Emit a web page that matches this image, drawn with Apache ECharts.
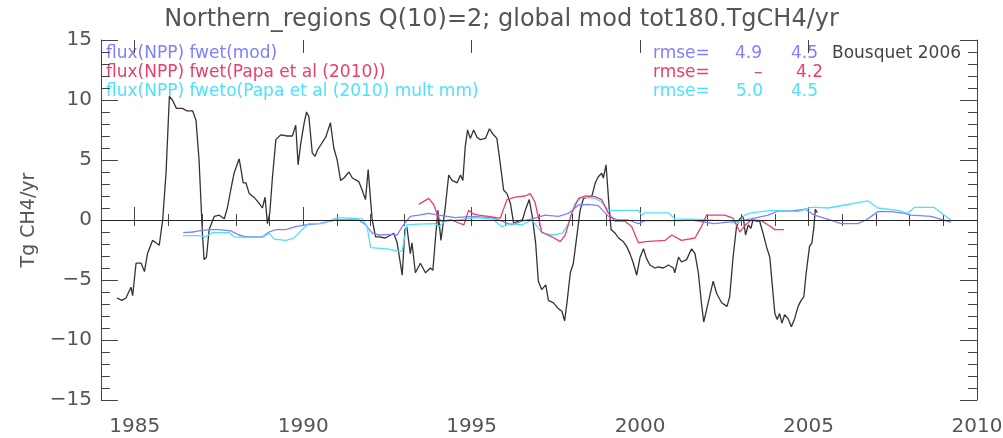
<!DOCTYPE html>
<html>
<head>
<meta charset="utf-8">
<title>Northern_regions</title>
<script src="https://cdn.jsdelivr.net/npm/echarts@6/dist/echarts.min.js"></script>
<style>
  html, body { margin: 0; padding: 0; background: #fff; }
  #chart { width: 1003px; height: 438px; }
</style>
</head>
<body>
<div id="chart"></div>
<script>
// tick labels
var yearLabels = [1985, 1990, 1995, 2000, 2005, 2010];
var yTicks = [-15, -10, -5, 0, 5, 10, 15];

// Bousquet 2006 (black)
var bousquet = [
    [1984.47, -6.5], [1984.62, -6.7], [1984.74, -6.5], [1984.89, -5.6], [1984.94, -6.3],
    [1985.04, -3.6], [1985.19, -3.6], [1985.29, -4.3], [1985.38, -2.8], [1985.53, -1.7],
    [1985.63, -1.9], [1985.73, -2.1], [1985.83, 0], [1985.93, 3.9], [1986.03, 10.3],
    [1986.12, 10.0], [1986.24, 9.3], [1986.42, 9.3], [1986.54, 9.1], [1986.72, 9.1],
    [1986.82, 8.3], [1986.91, 5.0], [1987.01, -1.1], [1987.06, -3.3], [1987.13, -3.1],
    [1987.21, -0.8], [1987.36, 0.3], [1987.51, 0.4], [1987.66, 0.1], [1987.75, 1.0],
    [1987.85, 2.5], [1987.95, 3.9], [1988.10, 5.1], [1988.15, 4.3], [1988.22, 3.1],
    [1988.30, 3.1], [1988.40, 2.2], [1988.54, 1.9], [1988.69, 1.4], [1988.79, 1.0],
    [1988.87, 1.9], [1988.94, -0.3], [1989.01, 0.6], [1989.09, 3.6], [1989.19, 6.7],
    [1989.34, 7.1], [1989.53, 7.0], [1989.68, 7.0], [1989.78, 7.9], [1989.85, 4.6],
    [1989.93, 6.4], [1990.03, 8.1], [1990.10, 9.0], [1990.17, 8.6], [1990.27, 5.6],
    [1990.35, 5.3], [1990.42, 5.8], [1990.52, 6.25], [1990.67, 6.9], [1990.81, 8.1],
    [1990.91, 6.0], [1991.01, 5.0], [1991.11, 3.3], [1991.21, 3.5], [1991.36, 4.0],
    [1991.46, 3.5], [1991.65, 3.2], [1991.75, 2.5], [1991.85, 1.7], [1991.93, 4.2],
    [1992.00, 1.7], [1992.05, 0], [1992.15, -1.4], [1992.25, -1.4], [1992.44, -1.5],
    [1992.69, -1.1], [1992.79, -1.9], [1992.94, -4.6], [1993.02, -0.8], [1993.08, -0.6],
    [1993.18, -2.8], [1993.23, -1.9], [1993.33, -4.4], [1993.48, -3.6], [1993.63, -4.4],
    [1993.78, -4.0], [1993.85, -4.2], [1993.93, -1.4], [1994.00, 0.8], [1994.09, -1.7],
    [1994.22, 1.1], [1994.32, 3.75], [1994.42, 3.3], [1994.57, 3.1], [1994.67, 3.75],
    [1994.74, 3.3], [1994.81, 6.1], [1994.88, 7.5], [1994.96, 6.8], [1995.06, 7.5],
    [1995.16, 6.9], [1995.26, 6.7], [1995.41, 6.8], [1995.53, 7.6], [1995.65, 7.1],
    [1995.75, 6.8], [1995.85, 4.7], [1995.95, 2.5], [1996.05, 2.2], [1996.15, 1.4],
    [1996.25, -0.3], [1996.37, -0.1], [1996.51, 0], [1996.59, 0.8], [1996.71, 1.7],
    [1996.80, 0.3], [1996.90, -1.9], [1996.98, -5.1], [1997.08, -5.8], [1997.20, -5.4],
    [1997.28, -6.7], [1997.43, -6.9], [1997.58, -7.4], [1997.68, -7.6], [1997.76, -8.4],
    [1997.83, -6.9], [1997.93, -4.4], [1998.02, -3.6], [1998.12, -1.4], [1998.22, 0.8],
    [1998.32, 1.8], [1998.47, 1.9], [1998.57, 2.0], [1998.67, 3.1], [1998.76, 3.6],
    [1998.86, 3.9], [1998.91, 3.5], [1998.99, 4.6], [1999.08, 1.1], [1999.14, -0.8],
    [1999.26, -1.1], [1999.36, -1.5], [1999.50, -1.8], [1999.60, -2.2], [1999.70, -2.8],
    [1999.80, -3.6], [1999.90, -4.6], [2000.00, -3.1], [2000.10, -2.4], [2000.19, -3.2],
    [2000.29, -3.75], [2000.44, -4.0], [2000.54, -3.9], [2000.69, -4.0], [2000.84, -3.75],
    [2000.99, -4.0], [2001.03, -4.4], [2001.14, -3.1], [2001.23, -3.5], [2001.38, -3.3],
    [2001.53, -2.4], [2001.63, -2.8], [2001.73, -4.4], [2001.82, -6.9], [2001.89, -8.5],
    [2002.02, -6.9], [2002.17, -5.1], [2002.27, -6.1], [2002.42, -6.9], [2002.58, -7.2],
    [2002.66, -6.4], [2002.76, -3.1], [2002.86, -0.6], [2002.96, 0.1], [2003.06, 0.3],
    [2003.13, -1.25], [2003.21, -0.4], [2003.29, -0.7], [2003.35, 0], [2003.45, -0.1],
    [2003.55, -0.1], [2003.65, -1.1], [2003.75, -2.2], [2003.85, -3.1], [2003.92, -5.3],
    [2004.00, -7.8], [2004.07, -8.3], [2004.14, -7.8], [2004.21, -8.6], [2004.29, -7.9],
    [2004.39, -8.2], [2004.49, -8.9], [2004.59, -8.2], [2004.69, -7.2], [2004.78, -6.7],
    [2004.86, -6.4], [2004.93, -4.4], [2005.03, -2.2], [2005.10, -1.9], [2005.16, -0.6],
    [2005.20, 0.9], [2005.26, 0.6]
];

// flux(NPP) fwet(mod)
var fwetMod = [
    [1986.44, -1.05], [1986.72, -1.0], [1986.91, -0.9], [1987.21, -0.8], [1987.51, -0.8],
    [1987.85, -0.9], [1988.10, -1.25], [1988.30, -1.4], [1988.79, -1.4], [1988.99, -1.0],
    [1989.19, -0.8], [1989.49, -0.8], [1989.78, -0.55], [1990.07, -0.4], [1990.47, -0.3],
    [1990.96, 0], [1991.65, 0], [1991.85, -0.4], [1992.05, -1.1], [1992.25, -1.25],
    [1992.64, -1.2], [1992.79, -1.25], [1992.94, -0.55], [1993.18, 0.3], [1993.43, 0.4],
    [1993.73, 0.55], [1994.02, 0.4], [1994.52, 0.2], [1995.01, 0.3], [1995.60, 0.2],
    [1995.90, -0.1], [1996.19, -0.4], [1996.49, -0.1], [1996.79, 0.1], [1997.18, 0.4],
    [1997.58, 0.3], [1997.87, 0.55], [1998.17, 1.25], [1998.47, 1.3], [1998.76, 1.2],
    [1999.06, 0.3], [1999.36, 0], [1999.65, 0], [1999.95, -0.3], [2000.15, -0.05],
    [2001.14, -0.05], [2001.53, 0], [2002.20, -0.3], [2002.90, -0.1], [2003.30, 0.1],
    [2003.80, 0.4], [2004.10, 0.75], [2004.50, 0.75], [2004.90, 0.9], [2005.18, 0.4],
    [2005.58, 0.05], [2005.97, -0.3], [2006.46, -0.3], [2006.71, 0], [2007.06, 0.7],
    [2007.45, 0.7], [2007.85, 0.55], [2008.04, 0.4], [2008.64, 0.3], [2008.94, 0.05],
    [2009.23, -0.2]
];

// flux(NPP) fwet(Papa et al (2010))
var fwetPapa = [
    [1993.43, 1.3], [1993.73, 1.8], [1993.88, 1.25], [1994.02, 0.15], [1994.10, -0.1],
    [1994.40, 0], [1994.77, -0.4], [1994.91, 0.8], [1995.06, 0.5], [1995.21, 0.4],
    [1995.50, 0.3], [1995.85, 0.15], [1996.05, 1.7], [1996.30, 1.9], [1996.59, 2.0],
    [1996.74, 2.2], [1996.88, 1.5], [1997.08, -1.0], [1997.38, -1.4], [1997.63, -1.8],
    [1997.78, -1.25], [1997.97, 0.55], [1998.17, 1.8], [1998.37, 2.0], [1998.67, 1.95],
    [1998.86, 1.7], [1999.06, 0.55], [1999.26, -0.1], [1999.55, -0.1], [1999.75, -0.55],
    [1999.95, -1.9], [2000.15, -1.8], [2000.74, -1.7], [2000.94, -1.25], [2001.23, -1.7],
    [2001.63, -1.5], [2001.82, -0.55], [2001.97, 0.4], [2002.51, 0.4], [2002.76, 0.15],
    [2002.96, -1.0], [2003.13, -0.4], [2003.30, 0], [2003.60, -0.05], [2003.85, -0.5],
    [2004.00, -0.8], [2004.27, -0.8]
];

// flux(NPP) fweto(Papa et al (2010) mult mm)
var fwetoPapa = [
    [1986.44, -1.3], [1986.91, -1.3], [1987.11, -1.4], [1987.31, -1.05], [1987.80, -1.05],
    [1987.95, -1.4], [1988.30, -1.45], [1988.79, -1.45], [1988.99, -1.1], [1989.14, -1.6],
    [1989.49, -1.7], [1989.73, -1.5], [1989.97, -0.8], [1990.17, -0.3], [1990.57, -0.3],
    [1991.01, 0.2], [1991.75, 0.1], [1991.90, -0.55], [1992.00, -2.3], [1992.50, -2.4],
    [1992.79, -2.6], [1992.94, -2.6], [1993.08, -0.4], [1993.43, -0.35], [1993.93, -0.3],
    [1994.02, -0.55], [1994.22, -0.1], [1994.62, 0], [1995.11, 0.2], [1995.60, 0.1],
    [1995.90, -0.55], [1996.19, -0.3], [1996.49, -0.4], [1996.79, 0], [1997.10, -1.1],
    [1997.40, -1.25], [1997.70, -1.1], [1997.87, -0.3], [1998.07, 1.4], [1998.27, 1.9],
    [1998.67, 1.8], [1998.86, 1.5], [1999.06, 0.8], [1999.95, 0.8], [2000.05, 0.4],
    [2000.15, 0.6], [2000.84, 0.6], [2001.03, 0.1], [2001.73, 0.05], [2002.50, -0.05],
    [2002.90, -0.3], [2003.10, 0.4], [2003.30, 0.6], [2003.90, 0.8], [2004.69, 0.7],
    [2004.90, 0.9], [2005.08, 1.05], [2005.30, 1.05], [2005.58, 1.0], [2006.07, 1.25],
    [2006.76, 1.6], [2007.06, 1.0], [2007.65, 0.8], [2007.94, 0.55], [2008.14, 1.05],
    [2008.73, 1.05], [2009.03, 0.4], [2009.23, 0]
];

var BLUE = '#7f7fff', RED = '#e8406e', CYAN = '#4fe0ff', BLACK = '#333333';
var FONT = '"DejaVu Sans", sans-serif';
var AXIS_COLOR = '#444';

// plot box in pixels
var GRID_LEFT = 101, GRID_RIGHT = 26, GRID_TOP = 40, GRID_BOTTOM = 38;
var X_MIN = 1984, X_MAX = 2010;
// second (wider) grid whose axis starts on 1980 so the 5-year ticks fall on 1985, 1990, ...
var PX_PER_YEAR = (1003 - GRID_LEFT - GRID_RIGHT) / (X_MAX - X_MIN);
var MAJOR_LEFT = GRID_LEFT - (X_MIN - 1980) * PX_PER_YEAR;

function minorXAxis(pos) {
    return {
        type: 'value', gridIndex: 0, position: pos, min: X_MIN, max: X_MAX, interval: 1,
        axisLine: { show: true, lineStyle: { color: AXIS_COLOR, width: 1 } },
        axisTick: { inside: true, length: 6, lineStyle: { color: AXIS_COLOR } },
        axisLabel: { show: false },
        splitLine: { show: false }
    };
}

function majorXAxis(pos) {
    return {
        type: 'value', gridIndex: 1, position: pos, min: 1980, max: X_MAX, interval: 5,
        axisLine: { show: false },
        axisTick: { inside: true, length: 13, lineStyle: { color: AXIS_COLOR } },
        axisLabel: {
            show: pos === 'bottom', margin: 17, color: '#555', fontSize: 20, fontFamily: FONT,
            formatter: function (v) { return yearLabels.indexOf(v) >= 0 ? String(v) : ''; }
        },
        splitLine: { show: false }
    };
}

function yAxisOf(pos) {
    return {
        type: 'value', gridIndex: 0, position: pos, min: -15, max: 15, interval: 5,
        name: pos === 'left' ? 'Tg CH4/yr' : '',
        nameLocation: 'middle', nameGap: 62,
        nameTextStyle: { color: '#555', fontSize: 19, fontFamily: FONT },
        axisLine: { show: true, lineStyle: { color: AXIS_COLOR, width: 1 } },
        axisTick: { inside: true, length: 17, lineStyle: { color: AXIS_COLOR } },
        minorTick: { show: true, splitNumber: 5, length: 9, lineStyle: { color: AXIS_COLOR } },
        axisLabel: {
            show: pos === 'left', margin: 9, color: '#555', fontSize: 20, fontFamily: FONT,
            formatter: function (v) { return yTicks.indexOf(v) >= 0 ? String(v).replace('-', '\u2212') : ''; }
        },
        splitLine: { show: false }
    };
}

function lineSeries(name, data, color, z) {
    return {
        name: name, type: 'line', data: data, showSymbol: false, z: z,
        xAxisIndex: 0, yAxisIndex: 0,
        lineStyle: { color: color, width: 1.3 }, itemStyle: { color: color }
    };
}

function legendText(text, x, y, color) {
    return {
        type: 'text', left: x, top: y,
        style: { text: text, fill: color, font: '17px ' + FONT }
    };
}

function makeOption() {
    var black = lineSeries('Bousquet 2006', bousquet, BLACK, 2);
    black.markLine = {
        silent: true, symbol: 'none', animation: false,
        label: { show: false },
        lineStyle: { color: '#222', type: 'solid', width: 1 },
        data: [{ yAxis: 0 }]
    };
    return {
        animation: false,
        backgroundColor: '#fff',
        title: {
            text: 'Northern_regions Q(10)=2; global mod tot180.TgCH4/yr',
            left: 'center', top: 3,
            textStyle: { color: '#555', fontSize: 24, fontWeight: 'normal', fontFamily: FONT }
        },
        grid: [
            { left: GRID_LEFT, right: GRID_RIGHT, top: GRID_TOP, bottom: GRID_BOTTOM, outerBoundsMode: 'none' },
            { left: MAJOR_LEFT, right: GRID_RIGHT, top: GRID_TOP, bottom: GRID_BOTTOM, outerBoundsMode: 'none' }
        ],
        xAxis: [minorXAxis('bottom'), minorXAxis('top'), majorXAxis('bottom'), majorXAxis('top')],
        yAxis: [
            yAxisOf('left'),
            yAxisOf('right'),
            { type: 'value', gridIndex: 1, show: false, min: -15, max: 15 }
        ],
        series: [
            black,
            lineSeries('flux(NPP) fwet(mod)', fwetMod, BLUE, 3),
            lineSeries('flux(NPP) fwet(Papa et al (2010))', fwetPapa, RED, 4),
            lineSeries('flux(NPP) fweto(Papa et al (2010) mult mm)', fwetoPapa, CYAN, 3)
        ],
        graphic: [
            legendText('flux(NPP) fwet(mod)', 106, 45, BLUE),
            legendText('flux(NPP) fwet(Papa et al (2010))', 106, 64, RED),
            legendText('flux(NPP) fweto(Papa et al (2010) mult mm)', 106, 83, CYAN),
            legendText('rmse=', 653, 45, BLUE),
            legendText('4.9', 735, 45, BLUE),
            legendText('4.5', 791, 45, BLUE),
            legendText('Bousquet 2006', 832, 45, '#444'),
            legendText('rmse=', 653, 64, RED),
            legendText('\u2013', 754, 64, RED),
            legendText('4.2', 796, 64, RED),
            legendText('rmse=', 653, 83, CYAN),
            legendText('5.0', 736, 83, CYAN),
            legendText('4.5', 791, 83, CYAN)
        ]
    };
}

function setChart(id, option) {
    var myChart = echarts.init(document.getElementById(id), null, { renderer: 'canvas' });
    myChart.setOption(option);
}

setChart('chart', makeOption());
</script>
</body>
</html>
